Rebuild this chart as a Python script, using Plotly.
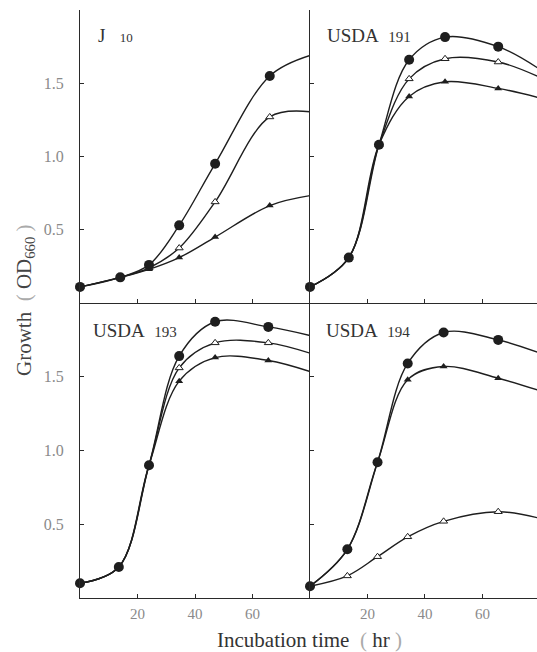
import plotly.graph_objects as go

# ---------------- data ----------------
T_J10 = [0, 14, 24, 34.5, 47, 66]
T_191 = [0, 13.5, 24, 34.5, 47, 65.5]
T_193 = [0, 13.5, 24, 34.5, 47, 65.5]
T_194 = [0, 13, 23.5, 34, 46.5, 65.5]
T_END = 80  # the drawn curves run on to the panel edge

J10_circle = [0.11, 0.175, 0.26, 0.53, 0.95, 1.55]
J10_open = [0.11, 0.175, 0.24, 0.375, 0.69, 1.27]
J10_filled = [0.11, 0.175, 0.23, 0.31, 0.45, 0.665]
J10_end = [1.69, 1.305, 0.733]

U191_circle = [0.11, 0.31, 1.08, 1.66, 1.815, 1.75]
U191_open = [0.11, 0.31, 1.08, 1.53, 1.667, 1.645]
U191_filled = [0.11, 0.31, 1.08, 1.41, 1.51, 1.465]
U191_end = [1.595, 1.54, 1.40]

U193_circle = [0.10, 0.21, 0.90, 1.64, 1.873, 1.838]
U193_open = [0.10, 0.21, 0.90, 1.56, 1.73, 1.73]
U193_filled = [0.10, 0.21, 0.90, 1.47, 1.63, 1.61]
U193_end = [1.78, 1.66, 1.535]

U194_circle = [0.08, 0.33, 0.92, 1.59, 1.80, 1.75]
U194_open = [0.08, 0.15, 0.28, 0.415, 0.52, 0.585]
U194_filled = [0.08, 0.33, 0.92, 1.48, 1.57, 1.49]
U194_end = [1.66, 0.54, 1.405]

Y_TICKS = [0.5, 1.0, 1.5]
Y_TICK_TEXT = ["0.5", "1.0", "1.5"]
X_TICKS = [20, 40, 60]
X_TICK_TEXT = ["20", "40", "60"]

PANEL_LABELS = [
    "J&nbsp;&nbsp;&nbsp;<span style='font-size:13px'>10</span>",
    "USDA&nbsp;&nbsp;<span style='font-size:15px'>191</span>",
    "USDA&nbsp;&nbsp;<span style='font-size:15px'>193</span>",
    "USDA&nbsp;&nbsp;<span style='font-size:15px'>194</span>",
]

# ---------------- layout geometry ----------------
W, H = 537, 652
def px_x(p):
    return p / W
def px_y(p):
    return 1 - p / H

X_LEFT = [px_x(80), px_x(310)]
X_RIGHT = [px_x(310), 1.0]
Y_TOP = [px_y(303), px_y(10)]
Y_BOT = [px_y(598), px_y(303)]

INK = "#1e1e1e"
SERIF = "Liberation Serif, Times New Roman, serif"

fig = go.Figure()

panels = [
    (T_J10, J10_circle, J10_open, J10_filled, J10_end, "x", "y"),
    (T_191, U191_circle, U191_open, U191_filled, U191_end, "x2", "y2"),
    (T_193, U193_circle, U193_open, U193_filled, U193_end, "x3", "y3"),
    (T_194, U194_circle, U194_open, U194_filled, U194_end, "x4", "y4"),
]

for t, circ, opn, fil, end, xa, ya in panels:
    series = [
        (fil, end[2], dict(symbol="triangle-up", size=7, color=INK, line=dict(width=0))),
        (opn, end[1], dict(symbol="triangle-up", size=7, color="white", line=dict(width=1, color=INK))),
        (circ, end[0], dict(symbol="circle", size=10, color=INK, line=dict(width=0))),
    ]
    for vals, last, mk in series:
        fig.add_trace(go.Scatter(
            x=list(t) + [T_END], y=list(vals) + [last],
            mode="lines", line=dict(color=INK, width=1.4, shape="spline", smoothing=1.0),
            xaxis=xa, yaxis=ya, showlegend=False, hoverinfo="skip"))
    for vals, last, mk in series:
        fig.add_trace(go.Scatter(
            x=t, y=vals, mode="markers", marker=mk,
            xaxis=xa, yaxis=ya, showlegend=False, cliponaxis=False))

axis_common = dict(showgrid=False, zeroline=False, showline=True, linecolor="#2a2a2a",
                   linewidth=1.3, ticks="inside", ticklen=4, tickcolor="#2a2a2a")

xcfg = dict(range=[0, 80], tickvals=X_TICKS, ticktext=X_TICK_TEXT,
            tickfont=dict(family=SERIF, size=15, color="#8a8a8a"), **axis_common)
ycfg = dict(range=[0, 2.0], tickvals=Y_TICKS, ticktext=Y_TICK_TEXT,
            tickfont=dict(family=SERIF, size=16, color="#8a8a8a"), **axis_common)

layout = dict(
    width=W, height=H, margin=dict(l=0, r=0, t=0, b=0),
    paper_bgcolor="white", plot_bgcolor="white", showlegend=False,
    xaxis=dict(domain=X_LEFT, anchor="y", showticklabels=False, **xcfg),
    yaxis=dict(domain=Y_TOP, anchor="x", ticklabelstandoff=12, **ycfg),
    xaxis2=dict(domain=X_RIGHT, anchor="y2", showticklabels=False, **{**xcfg, "range": [0, 79]}),
    yaxis2=dict(domain=Y_TOP, anchor="x2", showticklabels=False, **ycfg),
    xaxis3=dict(domain=X_LEFT, anchor="y3", ticklabelstandoff=2, **xcfg),
    yaxis3=dict(domain=Y_BOT, anchor="x3", ticklabelstandoff=12, **ycfg),
    xaxis4=dict(domain=X_RIGHT, anchor="y4", ticklabelstandoff=2, **{**xcfg, "range": [0, 79]}),
    yaxis4=dict(domain=Y_BOT, anchor="x4", showticklabels=False, **ycfg),
)

label_pos = [(96, 35), (325, 35), (91, 330), (324, 330)]
annotations = []
for txt, (lx, ly) in zip(PANEL_LABELS, label_pos):
    annotations.append(dict(text=txt, x=px_x(lx), y=px_y(ly), xref="paper", yref="paper",
                            xanchor="left", yanchor="middle", showarrow=False,
                            font=dict(family=SERIF, size=19, color="#333333")))
annotations.append(dict(
    text="Growth&nbsp;&nbsp;<span style='color:#aaaaaa'>(</span>&nbsp;OD<sub>660</sub>&nbsp;<span style='color:#aaaaaa'>)</span>",
    x=px_x(25), y=px_y(300), xref="paper", yref="paper", textangle=-90,
    xanchor="center", yanchor="middle",
    showarrow=False, font=dict(family=SERIF, size=21, color="#444444")))
annotations.append(dict(
    text="Incubation time&nbsp;&nbsp;<span style='color:#aaaaaa'>(</span>&nbsp;hr&nbsp;<span style='color:#aaaaaa'>)</span>",
    x=px_x(310), y=px_y(640), xref="paper", yref="paper",
    xanchor="center", yanchor="middle",
    showarrow=False, font=dict(family=SERIF, size=21, color="#333333")))
layout["annotations"] = annotations

fig.update_layout(**layout)
fig.write_html("out.html", config={"displayModeBar": False},
               post_script="document.body.style.margin='0';")
